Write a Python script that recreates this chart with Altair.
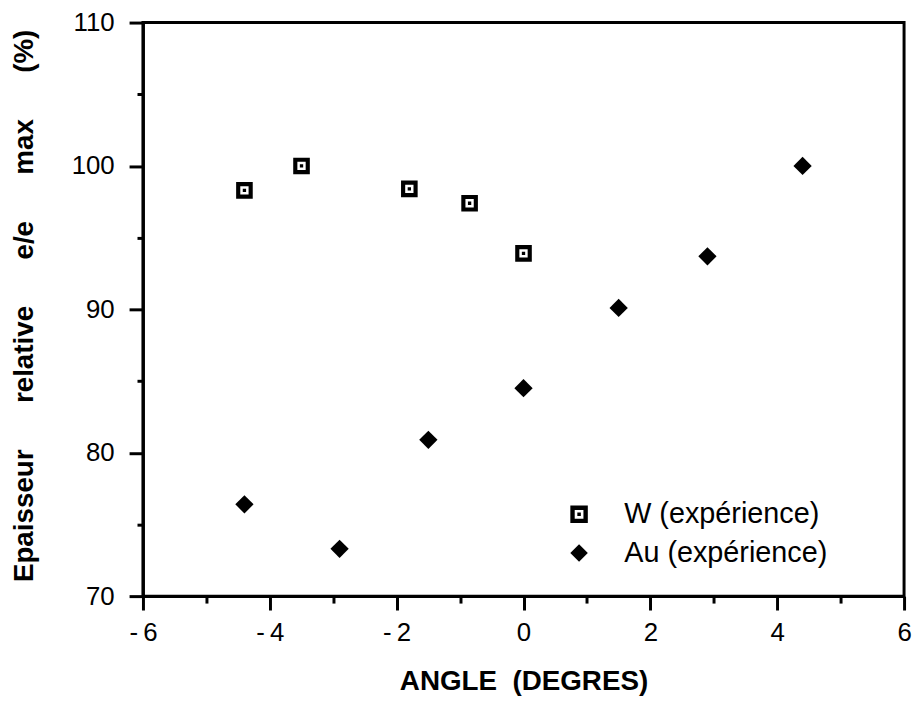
import altair as alt
import pandas as pd

# W (expérience): angle (degrés) and relative thickness (%)
w_angle = [-4.4, -3.5, -1.8, -0.85, 0.0]
w_value = [98.3, 100.0, 98.4, 97.4, 93.9]

# Au (expérience)
au_angle = [-4.4, -2.9, -1.5, 0.0, 1.5, 2.9, 4.4]
au_value = [76.4, 73.3, 80.9, 84.5, 90.1, 93.7, 100.0]

series_names = ["W (expérience)", "Au (expérience)"]

x_major = [-6, -4, -2, 0, 2, 4, 6]
x_minor = [-5, -3, -1, 1, 3, 5]
y_major = [70, 80, 90, 100, 110]
y_minor = [75, 85, 95, 105]

df_w = pd.DataFrame({"angle": w_angle, "value": w_value, "series": series_names[0]})
df_au = pd.DataFrame({"angle": au_angle, "value": au_value, "series": series_names[1]})
df_all = pd.concat([df_w, df_au], ignore_index=True)

FONT = "Liberation Sans"
NB = "\u00a0"
GAP = NB * 6

# square with hollow centre and a dot (nonzero winding)
square_dot = ("M-1,-1L1,-1L1,1L-1,1Z"
              "M-0.5,-0.5L-0.5,0.5L0.5,0.5L0.5,-0.5Z"
              "M-0.2,-0.2L0.2,-0.2L0.2,0.2L-0.2,0.2Z")

xscale = alt.Scale(domain=[-6, 6], nice=False, zero=False)
yscale = alt.Scale(domain=[70, 110], nice=False, zero=False)

x_axis = alt.Axis(
    values=x_major, tickSize=14, tickWidth=3, tickColor="black",
    domainWidth=3, domainColor="black", grid=False,
    labelFont=FONT, labelFontSize=26, labelColor="black", labelPadding=10,
    labelFlush=False, labelOverlap=False,
    labelExpr="datum.value < 0 ? '-' + '\u2009' + abs(datum.value) : datum.label",
    title=f"ANGLE{NB}{NB}(DEGRES)", titleFont=FONT, titleFontSize=28,
    titleFontWeight="bold", titleColor="black", titleBaseline="middle", titleY=86,
    orient="bottom",
)
y_axis = alt.Axis(
    values=y_major, tickSize=14, tickWidth=3, tickColor="black",
    domainWidth=3, domainColor="black", grid=False,
    labelFont=FONT, labelFontSize=26, labelColor="black", labelPadding=15,
    labelFlush=False, labelOverlap=False,
    title=GAP.join(["Epaisseur", "relative", "e/e", "max", "(%)"]),
    titleFont=FONT, titleFontSize=28, titleFontWeight="bold", titleColor="black",
    titleAlign="center", titleBaseline="middle", titleX=-119, titleY=285,
    orient="left",
)

shape_enc = alt.Shape(
    "series:N",
    scale=alt.Scale(domain=series_names, range=[square_dot, "diamond"]),
    legend=alt.Legend(
        title=None, orient="none", legendX=425, legendY=481, padding=0,
        labelFont=FONT, labelFontSize=29, labelColor="black", labelLimit=500,
        labelOffset=31, rowPadding=9, symbolSize=310,
        symbolFillColor="black", symbolStrokeWidth=0, symbolOpacity=1,
    ),
)

w_layer = alt.Chart(df_w).mark_point(filled=True, opacity=1, color="black", strokeWidth=0, size=280).encode(
    x=alt.X("angle:Q", scale=xscale, axis=x_axis),
    y=alt.Y("value:Q", scale=yscale, axis=y_axis),
    shape=shape_enc,
)

au_layer = alt.Chart(df_au).mark_point(filled=True, opacity=1, color="black", strokeWidth=0, size=340).encode(
    x=alt.X("angle:Q", scale=xscale, axis=x_axis),
    y=alt.Y("value:Q", scale=yscale, axis=y_axis),
    shape=shape_enc,
)

minor = alt.Chart(df_all).mark_point(opacity=0).encode(
    x=alt.X("angle:Q", scale=xscale, axis=alt.Axis(
        values=x_minor, tickSize=7, tickWidth=3, tickColor="black", labels=False,
        domain=False, grid=False, title=None, orient="bottom")),
    y=alt.Y("value:Q", scale=yscale, axis=alt.Axis(
        values=y_minor, tickSize=6, tickWidth=3, tickColor="black", labels=False,
        domain=False, grid=False, title=None, orient="left")),
)

main = alt.layer(w_layer, au_layer)

chart = alt.layer(main, minor).resolve_axis(x="independent", y="independent").properties(
    width=767, height=578,
    autosize=alt.AutoSizeParams(type="none"),
    padding={"left": 136, "top": 12, "right": 8, "bottom": 102},
    background="white",
).configure_view(stroke="black", strokeWidth=3)

chart.save("out.html", embed_options={"renderer": "svg", "actions": False})
